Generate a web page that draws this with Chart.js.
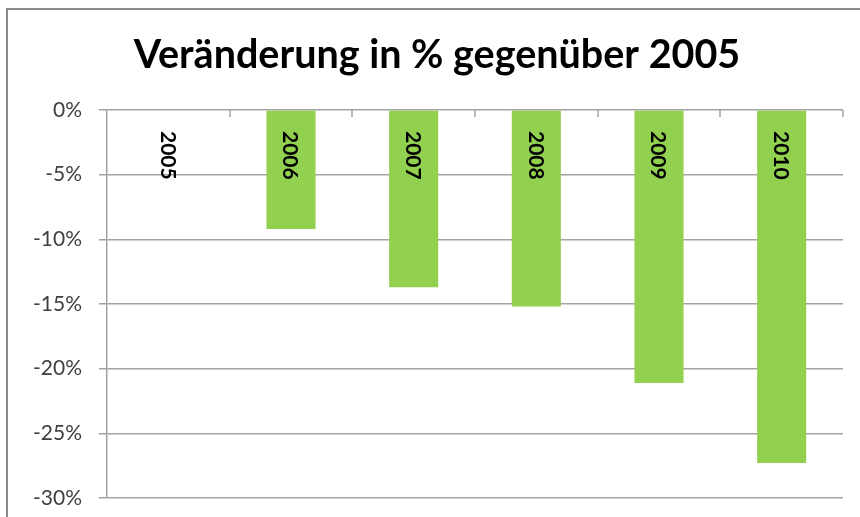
<!DOCTYPE html>
<html lang="de">
<head>
    <meta charset="UTF-8">
    <title>Veränderung in % gegenüber 2005</title>
    <script src="https://cdn.jsdelivr.net/npm/chart.js"></script>
    <style>
        body {
            margin: 0;
            background-color: #fff;
        }

        .chart-container {
            position: relative;
            width: 860px;
            height: 517px;
        }
    </style>
</head>
<body>
    <div class="chart-container">
        <canvas id="changeChart"></canvas>
    </div>
    <script>
        // Data
        const years = ['2005', '2006', '2007', '2008', '2009', '2010'];
        const changePct = [0, -9.2, -13.7, -15.2, -21.1, -27.3];
        const yMin = -30;
        const yMax = 0;
        const yStep = 5;

        const gridColor = '#a3a3a3';

        // Outer frame of the chart (only left and top edge are visible)
        const framePlugin = {
            id: 'frame',
            beforeDraw(chart) {
                const ctx = chart.ctx;
                ctx.save();
                ctx.strokeStyle = '#8a8a8a';
                ctx.lineWidth = 2;
                ctx.beginPath();
                ctx.moveTo(7, chart.height);
                ctx.lineTo(7, 9);
                ctx.lineTo(chart.width, 9);
                ctx.stroke();
                ctx.restore();
            }
        };

        // Category ticks hanging from the 0% line and rotated year labels
        const yearLabelPlugin = {
            id: 'yearLabels',
            afterDatasetsDraw(chart) {
                const ctx = chart.ctx;
                const x = chart.scales.x;
                const top = chart.chartArea.top;
                ctx.save();

                ctx.strokeStyle = gridColor;
                ctx.lineWidth = 1.5;
                for (let i = 1; i <= years.length; i++) {
                    const px = Math.round(x.getPixelForValue(i - 0.5));
                    ctx.beginPath();
                    ctx.moveTo(px, top);
                    ctx.lineTo(px, top + 7);
                    ctx.stroke();
                }

                ctx.fillStyle = '#000';
                ctx.font = 'bold 21px Lato';
                ctx.textAlign = 'left';
                ctx.textBaseline = 'middle';
                years.forEach((label, i) => {
                    ctx.save();
                    ctx.translate(x.getPixelForValue(i) - 1, top + 21);
                    ctx.rotate(Math.PI / 2);
                    ctx.fillText(label, 0, 0);
                    ctx.restore();
                });
                ctx.restore();
            }
        };

        const ctx = document.getElementById('changeChart').getContext('2d');

        const chart = new Chart(ctx, {
            type: 'bar',
            data: {
                labels: years,
                datasets: [{
                    data: changePct,
                    backgroundColor: '#92d050',
                    borderWidth: 0,
                    barPercentage: 0.4,
                    categoryPercentage: 1.0
                }]
            },
            options: {
                responsive: true,
                maintainAspectRatio: false,
                animation: false,
                layout: {
                    padding: { left: 31, right: 17, top: 0, bottom: 19 }
                },
                plugins: {
                    legend: { display: false },
                    tooltip: { enabled: false },
                    title: {
                        display: true,
                        text: 'Veränderung in % gegenüber 2005',
                        color: '#000',
                        font: { family: 'Lato', size: 39.5, weight: 'bold', lineHeight: 1.2 },
                        padding: { top: 32, bottom: 30.6 }
                    }
                },
                scales: {
                    x: {
                        display: false
                    },
                    y: {
                        min: yMin,
                        max: yMax,
                        afterFit(scale) {
                            scale.width = 76;
                            scale.paddingTop = 0;
                            scale.paddingBottom = 0;
                        },
                        ticks: {
                            stepSize: yStep,
                            padding: 17,
                            color: '#404040',
                            font: { family: 'Lato', size: 21 },
                            callback: value => value + '%'
                        },
                        grid: {
                            color: gridColor,
                            lineWidth: 1.5,
                            tickLength: 8
                        },
                        border: {
                            display: true,
                            color: gridColor,
                            width: 1.5
                        }
                    }
                }
            },
            plugins: [framePlugin, yearLabelPlugin]
        });
    </script>
</body>
</html>
